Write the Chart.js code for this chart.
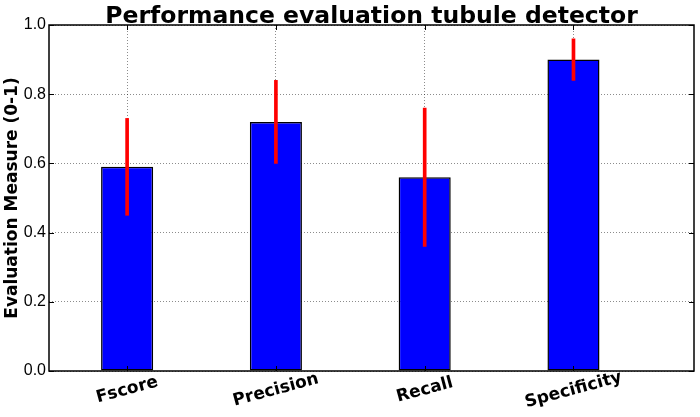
<!DOCTYPE html>
<html>
<head>
<meta charset="utf-8">
<script src="https://cdn.jsdelivr.net/npm/chart.js@4"></script>
<style>
  html, body { margin: 0; padding: 0; background: #fff; }
  #wrap { width: 700px; height: 417px; }
</style>
</head>
<body>
<div id="wrap"><canvas id="chart"></canvas></div>
<script>
const categories = ['Fscore', 'Precision', 'Recall', 'Specificity']
const scores = [0.59, 0.72, 0.56, 0.90]
const errors = [0.14, 0.12, 0.20, 0.06]
const yTicks = [0.0, 0.2, 0.4, 0.6, 0.8, 1.0]
const chartTitle = 'Performance evaluation tubule detector'
const yTitle = 'Evaluation Measure (0-1)'

const boldFont = '"DejaVu Sans", Verdana, sans-serif'
const tickFont = '"Liberation Sans", Arial, sans-serif'

// frame, inward ticks, title and tilted category labels
const decorations = {
  id: 'decorations',
  afterDraw(chart) {
    const { ctx, chartArea: a, scales } = chart
    ctx.save()
    ctx.strokeStyle = '#000'
    ctx.lineWidth = 1
    ctx.beginPath()
    yTicks.forEach(v => {
      const y = Math.round(scales.y.getPixelForValue(v)) + 0.5
      ctx.moveTo(a.left, y); ctx.lineTo(a.left + 5, y)
      ctx.moveTo(a.right, y); ctx.lineTo(a.right - 5, y)
    })
    categories.forEach((_, i) => {
      const x = Math.round(scales.x.getPixelForValue(i)) + 0.5
      ctx.moveTo(x, a.bottom); ctx.lineTo(x, a.bottom - 5)
      ctx.moveTo(x, a.top); ctx.lineTo(x, a.top + 5)
    })
    ctx.stroke()
    ctx.lineWidth = 1.5
    ctx.strokeRect(a.left, a.top, a.right - a.left, a.bottom - a.top)

    ctx.fillStyle = '#000'
    ctx.font = 'bold 23.5px ' + boldFont
    ctx.textAlign = 'center'
    ctx.textBaseline = 'alphabetic'
    ctx.fillText(chartTitle, (a.left + a.right) / 2, a.top - 2)

    ctx.font = 'bold 17px ' + boldFont
    ctx.textBaseline = 'middle'
    categories.forEach((c, i) => {
      const x = scales.x.getPixelForValue(i)
      ctx.save()
      ctx.translate(x, a.bottom + 19)
      ctx.rotate(-15 * Math.PI / 180)
      ctx.fillText(c, 0, 0)
      ctx.restore()
    })
    ctx.restore()
  }
}

new Chart(document.getElementById('chart'), {
  type: 'bar',
  data: {
    datasets: [
      {
        label: 'error',
        data: scores.map((v, i) => ({ x: i, y: [v - errors[i], v + errors[i]] })),
        backgroundColor: '#ff0000',
        borderWidth: 0,
        barThickness: 3,
        grouped: false
      },
      {
        label: 'score',
        data: scores.map((v, i) => ({ x: i, y: v })),
        backgroundColor: '#0000ff',
        borderColor: '#000',
        borderWidth: 1.5,
        borderSkipped: false,
        categoryPercentage: 1,
        barPercentage: 0.35,
        grouped: false
      }
    ]
  },
  options: {
    responsive: true,
    maintainAspectRatio: false,
    animation: false,
    layout: { padding: { top: 25, right: 6, left: 0, bottom: 0 } },
    plugins: {
      legend: { display: false },
      tooltip: { enabled: false }
    },
    scales: {
      x: {
        type: 'linear',
        min: -0.525,
        max: 3.81,
        offset: false,
        z: 1,
        afterBuildTicks: scale => { scale.ticks = categories.map((_, i) => ({ value: i })) },
        afterFit: scale => { scale.height = 46 },
        ticks: { display: false },
        grid: {
          offset: false,
          color: 'rgba(0,0,0,0.45)',
          lineWidth: 1,
          drawTicks: false
        },
        border: { display: false, dash: [1, 2] }
      },
      y: {
        min: 0,
        max: 1,
        z: 1,
        afterBuildTicks: scale => { scale.ticks = yTicks.map(v => ({ value: v })) },
        afterFit: scale => { scale.width = 49 },
        ticks: {
          color: '#000',
          padding: 3,
          font: { family: tickFont, size: 16 },
          callback: v => v.toFixed(1)
        },
        grid: {
          color: 'rgba(0,0,0,0.45)',
          lineWidth: 1,
          drawTicks: false
        },
        border: { display: false, dash: [1, 2] },
        title: {
          display: true,
          text: yTitle,
          color: '#000',
          font: { family: boldFont, size: 17, weight: 'bold' },
          padding: { top: 2, bottom: 0 }
        }
      }
    }
  },
  plugins: [decorations]
})
</script>
</body>
</html>
